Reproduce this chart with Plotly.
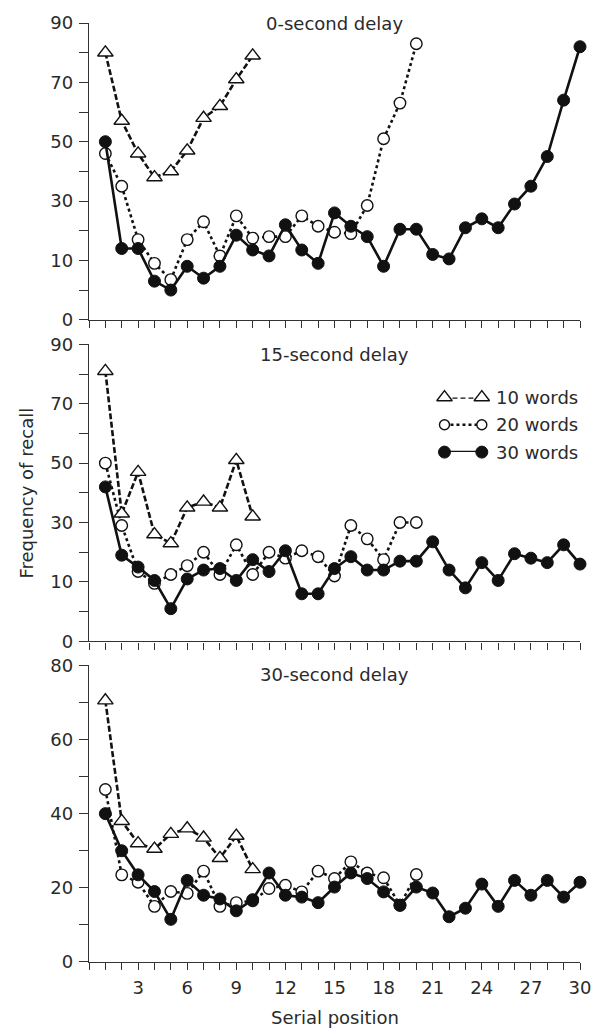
import plotly.graph_objects as go

# ---------------- data ----------------
pos10 = list(range(1, 11))
pos20 = list(range(1, 21))
pos30 = list(range(1, 31))

delay0_w10 = [80, 57, 46, 38, 40, 47, 58, 62, 71, 79]
delay0_w20 = [46, 35, 17, 9, 3.5, 17, 23, 11.5, 25, 17.5, 18, 18, 25, 21.5, 19.5, 19, 28.5, 51, 63, 83]
delay0_w30 = [50, 14, 14, 3, 0, 8, 4, 8, 18.5, 13.5, 11.5, 22, 13.5, 9, 26, 21.5, 18, 8, 20.5, 20.5,
              12, 10.5, 21, 24, 21, 29, 35, 45, 64, 82]

delay15_w10 = [81, 33, 47, 26, 23, 35, 37, 35, 51, 32]
delay15_w20 = [50, 29, 13.5, 9.5, 12.5, 15.5, 20, 12.5, 22.5, 12.5, 20, 18, 20.5, 18.5, 12, 29, 24.5, 17.5, 30, 30]
delay15_w30 = [42, 19, 15, 10.5, 1, 11, 14, 14.5, 10.5, 17.5, 13.5, 20.5, 6, 6, 14.5, 18.5, 14, 14, 17, 17,
               23.5, 14, 8, 16.5, 10.5, 19.5, 18, 16.5, 22.5, 16]

delay30_w10 = [70.5, 38, 32, 30.5, 34.5, 36, 33.5, 28, 34, 25]
delay30_w20 = [46.5, 23.5, 21.5, 15, 19, 18.5, 24.5, 15, 16, 16.5, 19.8, 20.7, 18.9, 24.5, 22.5, 27, 24, 22.7, 15.3, 23.6]
delay30_w30 = [40, 30, 23.5, 19, 11.5, 22, 18, 17, 13.8, 16.8, 24, 18, 17.5, 16, 20.2, 24, 22.5, 18.9, 15.3, 20.2,
               18.6, 12.2, 14.5, 21, 15, 22, 18, 22, 17.5, 21.5]

panel_titles = ["0-second delay", "15-second delay", "30-second delay"]
series_names = ["10 words", "20 words", "30 words"]
x_tickvals = list(range(0, 31))
x_ticktext = [str(v) if (v % 3 == 0 and v > 0) else "" for v in x_tickvals]
y_tickvals_a = list(range(-10, 91, 10))
y_ticktext_a = ["0", "", "10", "", "30", "", "50", "", "70", "", "90"]
y_tickvals_b = list(range(0, 81, 10))
y_ticktext_b = ["0", "", "20", "", "40", "", "60", "", "80"]

# ---------------- style ----------------
FONT = "DejaVu Sans"
FS = 18
TXT = "#2a2a2a"
AX = "#333333"
INK = "#111111"

styles = {
    "10 words": dict(symbol="triangle-up", size=13.5, fill="white", dash="6px,2.5px", mlw=1.4),
    "20 words": dict(symbol="circle", size=11.5, fill="white", dash="dot", mlw=1.4),
    "30 words": dict(symbol="circle", size=12, fill=INK, dash="solid", mlw=1),
}

fig = go.Figure()

panels = [
    (delay0_w10, delay0_w20, delay0_w30, "x", "y"),
    (delay15_w10, delay15_w20, delay15_w30, "x2", "y2"),
    (delay30_w10, delay30_w20, delay30_w30, "x3", "y3"),
]

for w10, w20, w30, xa, ya in panels:
    for name, xs, ys in [("20 words", pos20, w20), ("30 words", pos30, w30), ("10 words", pos10, w10)]:
        st = styles[name]
        fig.add_trace(go.Scatter(
            x=xs, y=ys, mode="lines+markers", xaxis=xa, yaxis=ya,
            line=dict(color=INK, width=2.6, dash=st["dash"]),
            marker=dict(symbol=st["symbol"], size=st["size"], color=st["fill"],
                        line=dict(color=INK, width=st["mlw"])),
            cliponaxis=False, showlegend=False, name=name, hoverinfo="skip",
        ))

# ---------------- custom legend (markers at both ends) ----------------
legend_rows = {"10 words": 2, "20 words": 1, "30 words": 0}
legend_sizes = {"10 words": 13.5, "20 words": 10, "30 words": 12}
legend_dash = {"10 words": "5px,3px", "20 words": "dot", "30 words": "solid"}
for name in series_names:
    st = styles[name]
    r = legend_rows[name]
    fig.add_trace(go.Scatter(
        x=[0, 1], y=[r, r], mode="lines+markers", xaxis="x4", yaxis="y4",
        line=dict(color=INK, width=2.7, dash=legend_dash[name]),
        marker=dict(symbol=st["symbol"], size=legend_sizes[name], color=st["fill"],
                    line=dict(color=INK, width=st["mlw"])),
        cliponaxis=False, showlegend=False, hoverinfo="skip",
    ))

annotations = []
for name in series_names:
    annotations.append(dict(text=name, xref="paper", yref="y4", x=0.8246, y=legend_rows[name],
                            xanchor="left", yanchor="middle", showarrow=False,
                            font=dict(family=FONT, size=FS, color=TXT)))

title_y = [0.999, 0.6472, 0.3062]
for t, yy in zip(panel_titles, title_y):
    annotations.append(dict(text=t, xref="paper", yref="paper", x=0.5, y=yy,
                            xanchor="center", yanchor="middle", showarrow=False,
                            font=dict(family=FONT, size=FS, color=TXT)))

annotations.append(dict(text="Frequency of recall", xref="paper", yref="paper", x=-0.127, y=0.4995,
                        xanchor="center", yanchor="middle", textangle=-90, showarrow=False,
                        font=dict(family=FONT, size=FS, color=TXT)))
annotations.append(dict(text="Serial position", xref="paper", yref="paper", x=0.5, y=-0.0594,
                        xanchor="center", yanchor="middle", showarrow=False,
                        font=dict(family=FONT, size=FS, color=TXT)))


def xaxis(anchor, labels):
    return dict(domain=[0, 1], anchor=anchor, range=[0, 30], showline=True, linecolor=AX, linewidth=1.4,
                ticks="outside", ticklen=7, tickwidth=1.3, tickcolor=AX,
                tickvals=x_tickvals, ticktext=x_ticktext if labels else [""] * len(x_tickvals),
                showticklabels=labels, showgrid=False, zeroline=False, ticklabelstandoff=2,
                tickfont=dict(family=FONT, size=FS, color=TXT))


def yaxis(anchor, dom, rng, tv, tt):
    return dict(domain=dom, anchor=anchor, range=rng, showline=True, linecolor=AX, linewidth=1.4,
                ticks="outside", ticklen=9, tickwidth=1.3, tickcolor=AX,
                tickvals=tv, ticktext=tt, showgrid=False, zeroline=False, ticklabelstandoff=2,
                tickfont=dict(family=FONT, size=FS, color=TXT))


fig.update_layout(
    width=603, height=1028,
    margin=dict(l=89, r=18, t=19, b=66),
    paper_bgcolor="white", plot_bgcolor="white",
    showlegend=False,
    xaxis=xaxis("y", False),
    xaxis2=xaxis("y2", False),
    xaxis3=xaxis("y3", True),
    yaxis=yaxis("x", [0.684, 1.0], [-10, 90], y_tickvals_a, y_ticktext_a),
    yaxis2=yaxis("x2", [0.3415, 0.6578], [-10, 90], y_tickvals_a, y_ticktext_a),
    yaxis3=yaxis("x3", [0.0, 0.316], [0, 80], y_tickvals_b, y_ticktext_b),
    xaxis4=dict(domain=[0.724, 0.800], anchor="y4", range=[0, 1], visible=False),
    yaxis4=dict(domain=[0.5430, 0.6013], anchor="x4", range=[0, 2], visible=False),
    annotations=annotations,
)

fig.write_html("out.html",
               config={"displayModeBar": False},
               post_script="document.body.style.margin='0';document.body.style.overflow='hidden';")
